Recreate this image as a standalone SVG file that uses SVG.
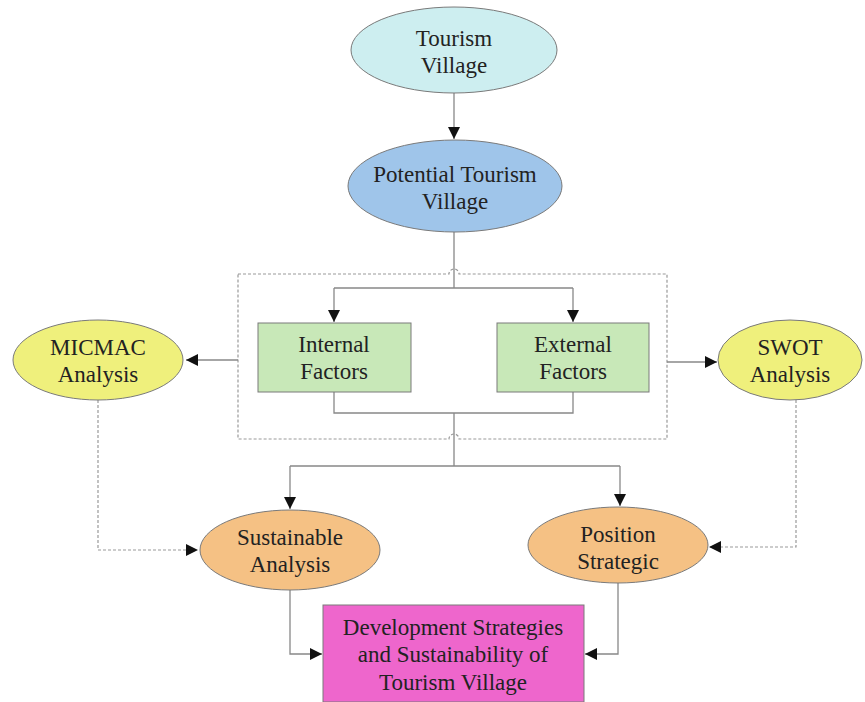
<svg xmlns="http://www.w3.org/2000/svg" width="865" height="702" viewBox="0 0 865 702">
<style>
.n{stroke:#7a7a7a;stroke-width:1}
.t{font-family:"Liberation Serif","Times New Roman",serif;font-size:23px;fill:#222;text-anchor:middle}
.c{fill:none;stroke:#888;stroke-width:1.3}
.d{fill:none;stroke:#999;stroke-width:1.2;stroke-dasharray:3,2}
</style>
<defs>
<marker id="a" viewBox="0 0 10 10" refX="10" refY="5" markerWidth="13" markerHeight="12" markerUnits="userSpaceOnUse" orient="auto">
<path d="M0,0 L10,5 L0,10 z" fill="#111"/>
</marker>
</defs>
<rect width="865" height="702" fill="#fff"/>
<g id="connectors">
<path class="c" d="M454,93 V139" marker-end="url(#a)"/>
<path class="c" d="M454,232 V288 M334,288 H573"/>
<path class="c" d="M334,288 V322" marker-end="url(#a)"/>
<path class="c" d="M573,288 V322" marker-end="url(#a)"/>
<path class="c" d="M334,392 V413 H573 V392 M454,413 V466 M290,466 H620"/>
<path class="c" d="M290,466 V509" marker-end="url(#a)"/>
<path class="c" d="M620,466 V506" marker-end="url(#a)"/>
<path class="d" d="M238,274 H449 A5,5 0 0 1 459,274 H667 V439 H459 A5,5 0 0 0 449,439 H238 Z"/>
<path class="c" d="M238,360 H186" marker-end="url(#a)"/>
<path class="c" d="M667,362 H717" marker-end="url(#a)"/>
<path class="d" d="M98,400 V550 H198" marker-end="url(#a)"/>
<path class="d" d="M796,400 V547 H709" marker-end="url(#a)"/>
<path class="c" d="M290,590 V654 H322" marker-end="url(#a)"/>
<path class="c" d="M618,583 V654 H585" marker-end="url(#a)"/>
</g>
<g id="tourism-village">
<ellipse class="n" cx="454" cy="50" rx="103" ry="43" fill="#cdeef0"/>
<text class="t" x="454" y="46">Tourism</text>
<text class="t" x="454" y="73">Village</text>
</g>
<g id="potential-tourism-village">
<ellipse class="n" cx="455" cy="186" rx="107" ry="46" fill="#9fc5ea"/>
<text class="t" x="455" y="182">Potential Tourism</text>
<text class="t" x="455" y="209">Village</text>
</g>
<g id="internal-factors">
<rect class="n" x="258" y="323" width="153" height="69" fill="#c8e8b8"/>
<text class="t" x="334" y="352">Internal</text>
<text class="t" x="334" y="379">Factors</text>
</g>
<g id="external-factors">
<rect class="n" x="497" y="323" width="152" height="69" fill="#c8e8b8"/>
<text class="t" x="573" y="352">External</text>
<text class="t" x="573" y="379">Factors</text>
</g>
<g id="micmac">
<ellipse class="n" cx="98" cy="360" rx="85" ry="40" fill="#eff07c"/>
<text class="t" x="98" y="355">MICMAC</text>
<text class="t" x="98" y="382">Analysis</text>
</g>
<g id="swot">
<ellipse class="n" cx="790" cy="360" rx="72" ry="40" fill="#eff07c"/>
<text class="t" x="790" y="355">SWOT</text>
<text class="t" x="790" y="382">Analysis</text>
</g>
<g id="sustainable-analysis">
<ellipse class="n" cx="290" cy="550" rx="90" ry="40" fill="#f5c184"/>
<text class="t" x="290" y="545">Sustainable</text>
<text class="t" x="290" y="572">Analysis</text>
</g>
<g id="position-strategic">
<ellipse class="n" cx="618" cy="545" rx="90" ry="38" fill="#f5c184"/>
<text class="t" x="618" y="542">Position</text>
<text class="t" x="618" y="569">Strategic</text>
</g>
<g id="development-strategies">
<rect class="n" x="323" y="605" width="261" height="97" fill="#ee66cc"/>
<text class="t" x="453" y="635">Development Strategies</text>
<text class="t" x="453" y="662">and Sustainability of</text>
<text class="t" x="453" y="690">Tourism Village</text>
</g>
</svg>
